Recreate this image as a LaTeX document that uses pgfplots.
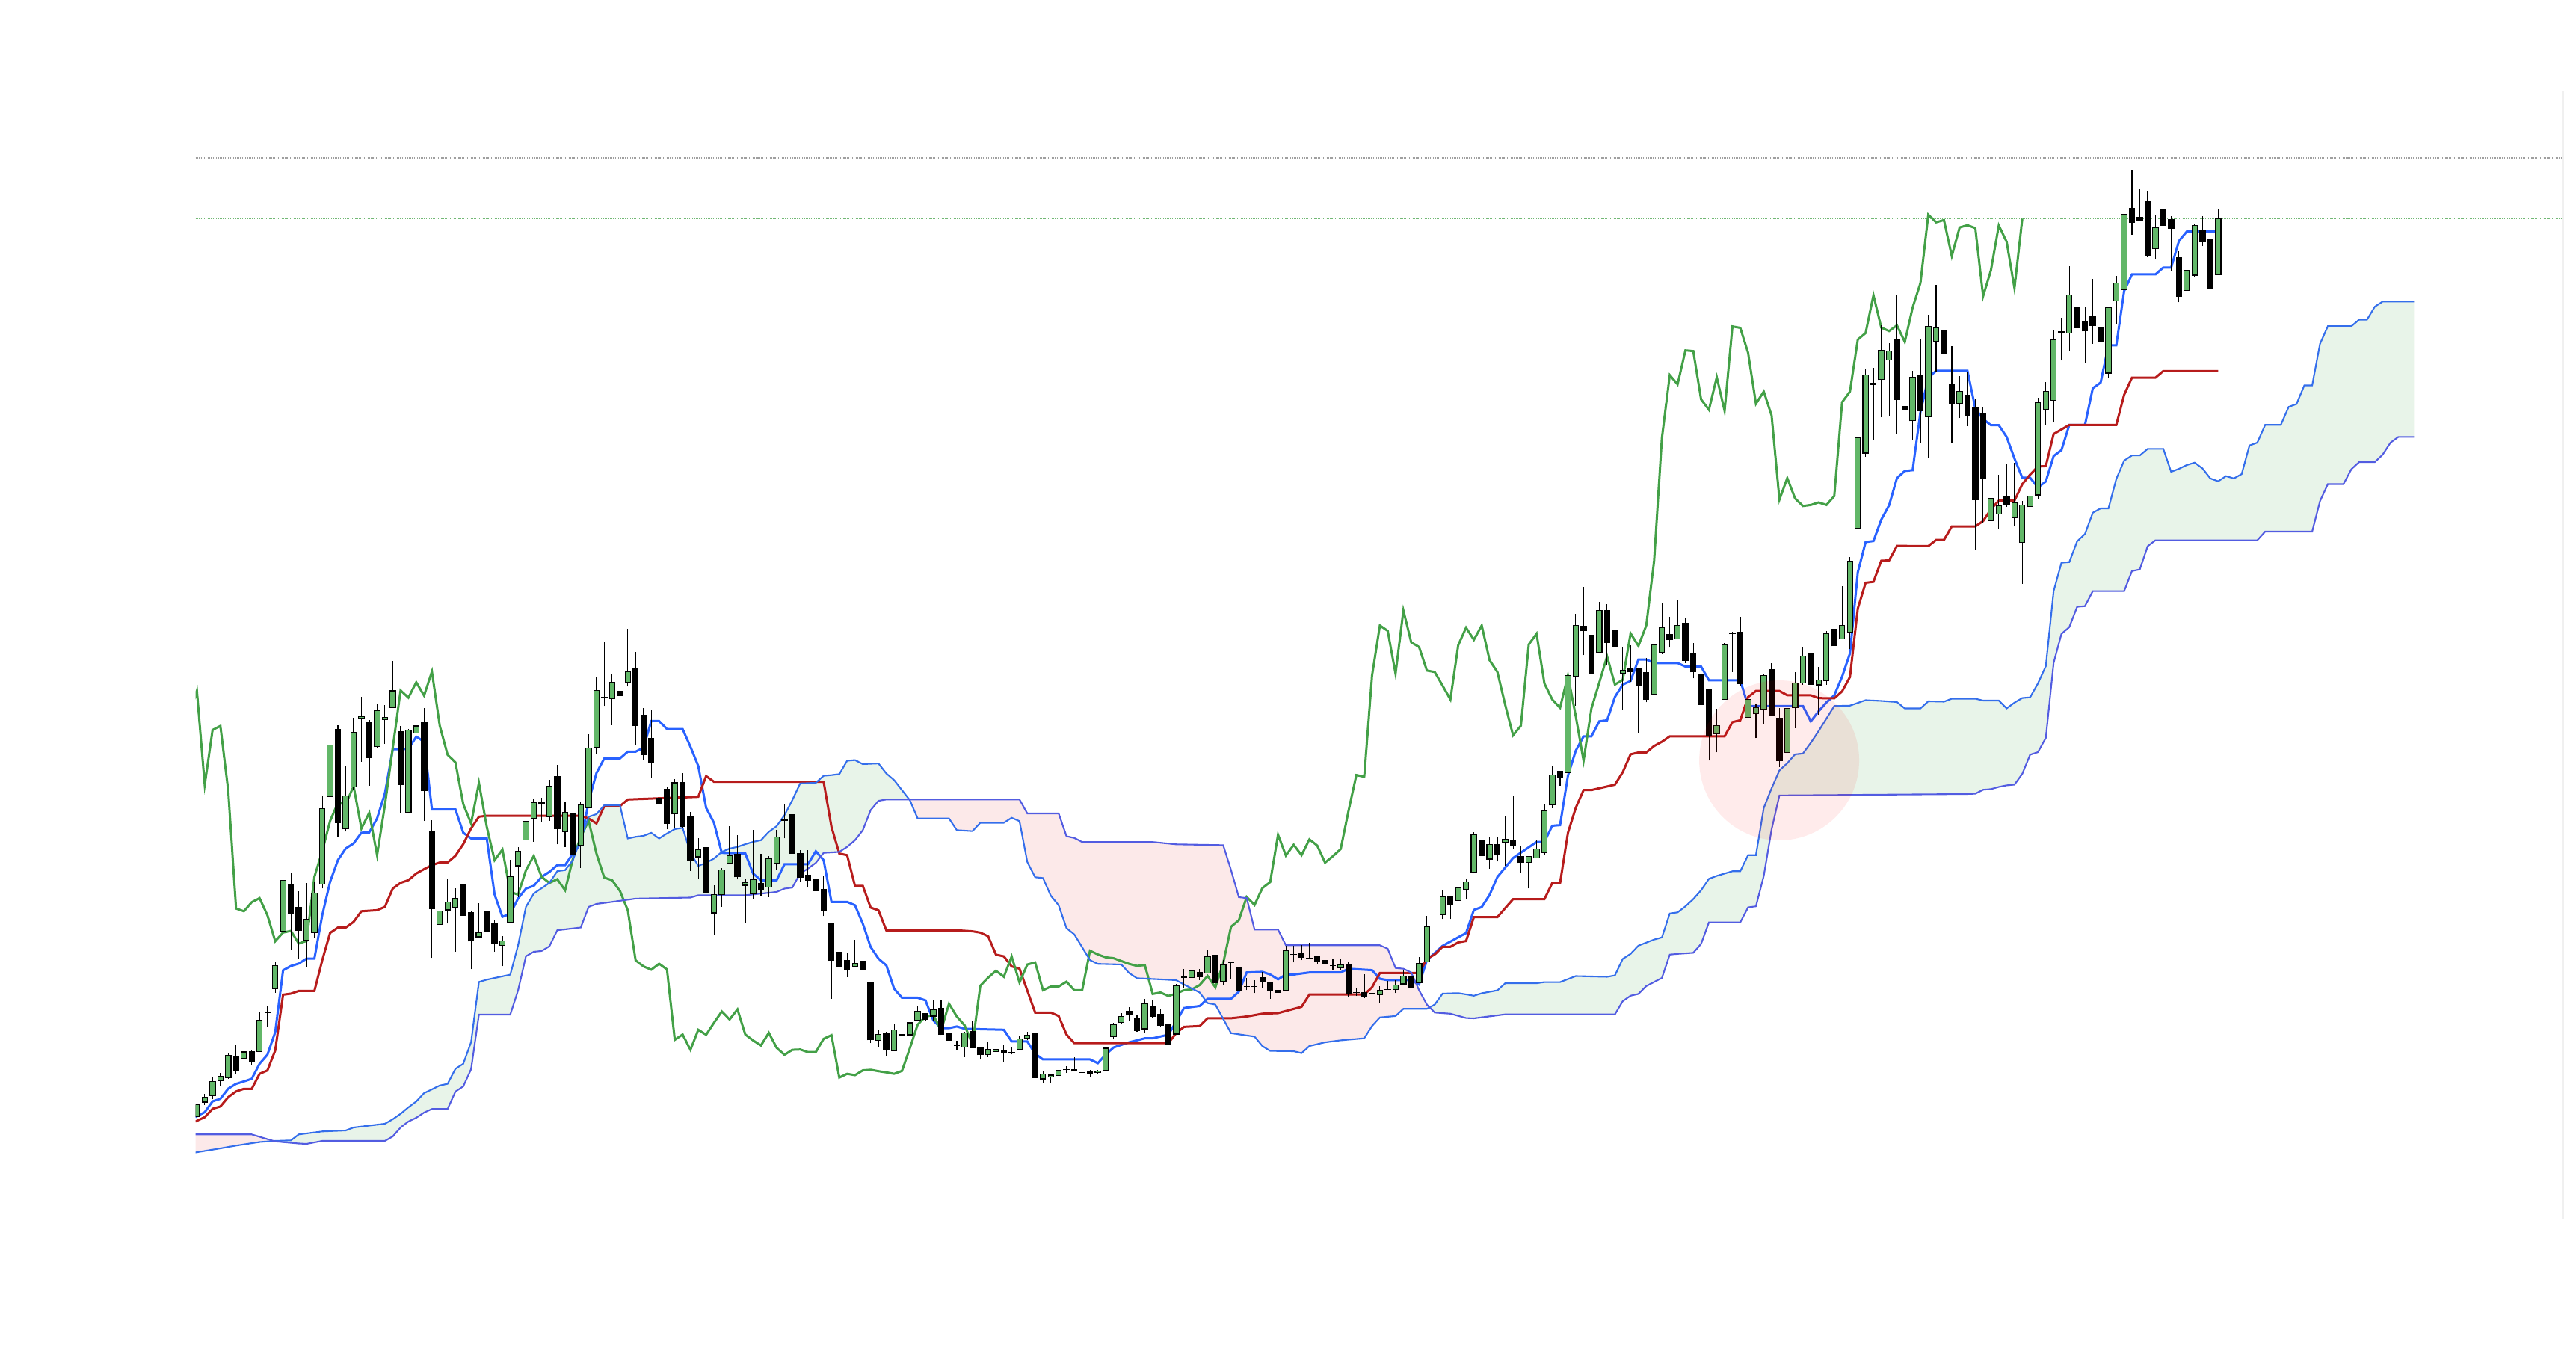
\documentclass[border=0pt]{standalone}
\usepackage{pgfplots}
\pgfplotsset{compat=1.18}
\usepackage{pgfplotstable}
\usepgfplotslibrary{fillbetween}

\definecolor{tenkan}{HTML}{2962FF}
\definecolor{kijun}{HTML}{B71C1C}
\definecolor{chikou}{HTML}{43A047}
\definecolor{spanA}{RGB}{52,110,235}
\definecolor{spanB}{RGB}{82,92,225}
\definecolor{cloudgreen}{RGB}{232,244,233}
\definecolor{cloudred}{RGB}{252,233,233}
\definecolor{bull}{RGB}{98,183,104}

% all prices are read as pixel rows of the reference (larger = lower)
\pgfplotstableread{
i o h l c
0 1493 1471 1495 1477
1 1474.1 1463 1477.7 1467.4
2 1465.2 1440.6 1470.5 1446.4
3 1445.1 1434.8 1452.7 1439.3
4 1441.5 1409.4 1443 1411.6
5 1412.5 1398.2 1436.2 1431.7
6 1416.1 1393.8 1418.3 1407.1
7 1406.3 1405 1424.1 1419.6
8 1406.3 1353.6 1407 1364.7
9 1354.9 1345.5 1373.7 1354.9
10 1322.3 1286.6 1327.7 1291.5
11 1245.5 1141.5 1300 1177.2
12 1183 1167 1271 1221
13 1213.8 1192 1283 1244.6
14 1258 1180.8 1293.3 1229.5
15 1247.3 1180.4 1254.5 1194.6
16 1182.6 1064.3 1188.4 1081.3
17 1065.2 984.4 1079 996.4
18 975.4 970.5 1120 1100.4
19 1108.9 1025.4 1112.5 1064.7
20 1052.2 959.8 1056.7 979.5
21 960.3 932 1018.8 958.5
22 966.5 963 1051.3 1013.4
23 998.7 940.6 1000.9 950.4
24 962 942.9 995.1 959.8
25 946 883.9 947 924.1
26 978.6 971 1087.5 1049.6
27 1087 975 1088 976.3
28 980.4 954.5 1026.3 971
29 966.5 947.3 1098.2 1057.6
30 1112.5 1096.9 1281.3 1215.2
31 1236.2 1217 1241 1218.8
32 1217 1176.3 1235.3 1206.7
33 1213.8 1188.4 1273.2 1201.3
34 1184 1155.8 1225.5 1224.1
35 1221 1219.5 1296.4 1258.9
36 1253.1 1208.5 1254 1247.3
37 1219.6 1217.4 1259.8 1245.1
38 1234.4 1230.8 1273.2 1262
39 1264.3 1251.8 1292.4 1258.5
40 1233.9 1149.6 1235 1172.8
41 1158 1132.6 1200.4 1138.4
42 1123.7 1081.3 1125.9 1098.2
43 1094.6 1067.9 1125.9 1073.7
44 1072.3 1067 1099.1 1075.9
45 1092.4 1043.3 1098.2 1051.3
46 1038.8 1023.2 1129.5 1108
47 1112.5 1073.2 1132.6 1087
48 1088 1073.2 1169.6 1143.8
49 1130.4 1073.2 1160.7 1076.8
50 1080.4 982.1 1081.5 1000.4
51 999.6 906.3 1007.6 923.5
52 933.1 859.5 944.3 933.1
53 934.5 901.9 969.7 912.6
54 924.2 892.9 948.8 930.4
55 913 841.2 918.4 898.3
56 893.8 872 995.6 970.6
57 956.3 947.4 1016.6 1009.5
58 988 950.1 1040.3 1019.7
59 1068 1034.5 1088.9 1075.5
60 1055.9 1053.2 1109.5 1101.4
61 1088.9 1042 1107.2 1047
62 1047 1034.5 1107 1105.9
63 1091.6 1085.8 1164.8 1150.5
64 1146.1 1121.5 1175.1 1136.3
65 1134 1131.3 1213.9 1193
66 1221.1 1184 1251 1196.5
67 1196.5 1160.8 1213 1163.9
68 1155 1105 1156 1144.7
69 1143 1117 1176.4 1172.9
70 1184 1175 1235.4 1180.9
71 1195.2 1110.4 1201.9 1176
72 1181.8 1141.6 1199 1190.7
73 1186.3 1145.2 1199.6 1148.3
74 1155 1110.4 1163.9 1119.3
75 1095.6 1076 1121.5 1097.9
76 1089.4 1085.8 1143 1141.6
77 1141.6 1137.1 1179.6 1173.8
78 1170.6 1137.1 1187.1 1177.3
79 1176 1163 1197.4 1191.6
80 1189.8 1170.6 1225.5 1217.5
81 1234.5 1234 1335.8 1284.5
82 1273.3 1268 1299.2 1292.5
83 1284.5 1275.5 1306.8 1297
84 1292.5 1256.8 1293 1289
85 1285.4 1264.4 1297 1296.5
86 1314.4 1314 1395.2 1390.7
87 1391.6 1376.9 1399.6 1383.6
88 1381.3 1379.6 1411.7 1404.1
89 1405 1369.3 1406 1377.3
90 1385.8 1383.5 1409.5 1384
91 1384 1348.3 1387.1 1368
92 1364.8 1345.6 1365.5 1352.8
93 1355.9 1355 1366 1363.5
94 1359 1338 1365.7 1350
95 1348.3 1338 1384.5 1383.6
96 1381.3 1375 1392 1391.6
97 1398.3 1391.6 1404.1 1398.3
98 1400.5 1380.5 1413.9 1381.3
99 1379.6 1364.8 1402 1401.4
100 1401.9 1401.5 1417.5 1410.8
101 1410.8 1393.8 1413.9 1404.1
102 1406.3 1392.5 1406.5 1403.7
103 1405 1398.3 1420.6 1407.2
104 1407.2 1400.5 1410.4 1407.2
105 1403.7 1385.8 1404 1389.4
106 1389 1380.4 1391 1384.5
107 1383 1383 1453.8 1441.2
108 1443.1 1431.6 1448.8 1436.2
109 1440 1436.5 1448.8 1438
110 1438.5 1428.5 1445 1431.6
111 1430.8 1425.8 1434.6 1430.8
112 1430.4 1414.4 1433 1432.7
113 1434.3 1429.7 1438.5 1434.3
114 1432.3 1430.8 1440.4 1436.2
115 1434.6 1430.8 1436 1432.3
116 1431.6 1397.1 1432 1402.1
117 1386.4 1368.4 1390.3 1370.4
118 1367.7 1355 1369.6 1359.6
119 1353.1 1347.4 1365.8 1357.7
120 1361.9 1357 1379.9 1378
121 1376.1 1335.9 1380.7 1342.4
122 1346.2 1337.8 1361.9 1359.6
123 1356.2 1350.5 1374.2 1371.5
124 1369.6 1366.5 1401.7 1397.1
125 1383 1316 1384 1318.3
126 1305.3 1295.7 1320.6 1307.6
127 1307.6 1291.9 1321.8 1298.4
128 1300.3 1295.7 1311 1306.4
129 1301.5 1270.9 1302 1279.3
130 1277.4 1277 1317.9 1314.1
131 1313 1284.2 1316.8 1290
132 1287.3 1286.2 1309.1 1287.3
133 1294.6 1294 1330.2 1324.4
134 1319.5 1308.4 1324.4 1319.5
135 1319.5 1311 1328.3 1319.5
136 1307.6 1299.6 1321.8 1313
137 1314.5 1314 1335.9 1324.4
138 1327.1 1324 1341.6 1324.4
139 1324.4 1265.1 1325 1271.6
140 1276.6 1265.1 1287.3 1276.6
141 1274.7 1264 1284.2 1280.4
142 1281.6 1261.3 1282 1281.6
143 1279.3 1279 1289.2 1285.4
144 1284.2 1284 1295.7 1289.2
145 1291.9 1282.3 1297.6 1291.9
146 1294.6 1282.3 1297.6 1290.8
147 1290.8 1286.2 1333.2 1329.4
148 1327.5 1320.6 1332.1 1327.5
149 1327.5 1303.4 1335.1 1332.1
150 1329 1322.5 1335.9 1329
151 1330.2 1318.7 1340.9 1324.4
152 1323.3 1312.2 1324 1323.3
153 1323.3 1311 1328.3 1317.5
154 1316 1296.9 1316.5 1305.3
155 1306.4 1306 1322.5 1320.6
156 1314.9 1279.7 1315 1288.5
157 1286.2 1224.9 1286.5 1239.5
158 1230.7 1211.5 1234.5 1230.7
159 1223.8 1190.5 1229.5 1199.7
160 1199.7 1199.5 1229.5 1210.4
161 1204.3 1179.8 1214.2 1187.8
162 1189.7 1175.2 1203.1 1179.8
163 1166.7 1112.7 1168.2 1116.5
164 1123.7 1123.5 1165.3 1144.3
165 1149 1120.3 1162 1129.9
166 1129.9 1120.3 1152.4 1143.8
167 1127 1091.1 1158.1 1122.7
168 1123.7 1065.3 1135.6 1130.9
169 1145.2 1130.9 1167.7 1153.8
170 1153.3 1145 1188.3 1145.2
171 1147.6 1123.7 1148 1135.6
172 1140.4 1075.8 1142.8 1084.4
173 1076.8 1024.2 1080.6 1036.6
174 1031.8 1031.5 1051 1039
175 1033.7 890.7 1041.4 903.6
176 904.5 821.3 944.3 836.6
177 837.6 784.9 876.3 843.8
178 850 849.5 933.7 901.2
179 873 805.5 873.5 816.5
180 816.5 807.9 890.2 859.1
181 843.3 795 883.5 865.3
182 900.2 865.3 949 896.9
183 894 862.9 912.2 898.8
184 894 893.5 980.1 917
185 899.8 879.7 939.5 935.6
186 928.9 858.1 932.3 862.9
187 872.5 806.9 874.9 839.5
188 848.6 824.6 866.3 855.7
189 854.3 803.1 854.5 836.6
190 833.3 826.1 886.8 883
191 873.9 860.5 907.4 898.8
192 901.2 897.8 963.4 942.8
193 922.7 922.5 1017.5 983.5
194 981.1 947.6 1006.5 970.6
195 935.2 859.6 935.5 862
196 847.6 845.2 898.8 847.6
197 845.2 824.6 918 914.1
198 959.6 913.2 1065.3 935.6
199 954.8 941.9 987.3 946.7
200 949 901.2 968.2 903.6
201 895.5 886.8 958 957.7
202 961 946.7 1025.6 1017.5
203 1006.5 944.3 1006.8 947.6
204 946.7 898.8 973.9 913.2
205 913.2 866.3 915.6 877.8
206 874.9 874.5 944.3 915.6
207 916 891.6 956.2 909.3
208 910.8 843.8 915.6 847.1
209 841.4 836.6 885.4 863.9
210 854.3 784 854.5 836.6
211 845.2 744.7 867.7 750.5
212 706.5 562 712.2 585.9
213 606 492.6 610.8 501.7
214 512.7 492.1 588.3 514.1
215 507.9 435.2 558.1 468.7
216 481.6 459.1 555.7 469.6
217 453.8 394 580.6 534.2
218 543.3 479.2 579.7 548.1
219 562.9 495.9 587.8 504.5
220 502.2 453.8 592.6 549.5
221 557.2 420.8 612.2 436.6
222 456.2 381.1 497.4 438.5
223 442.3 411.2 521.3 472
224 513.6 463.4 591.6 540
225 540 503.1 559.1 523.7
226 528.5 497.4 570.1 555.7
227 544.7 534.2 735.2 668.2
228 552.4 544.7 699.3 639.5
229 696.9 658.6 756.7 666.7
230 687.3 634.7 707.4 676.8
231 663.4 621.3 677.8 675.4
232 692.1 619.4 704.1 672
233 725.6 669.6 780.6 675.4
234 677.8 645.7 684 663.4
235 662 531.8 666.7 538
236 548 510.9 568.5 523.7
237 535.4 440.9 565.2 454.2
238 443.5 424.8 482.2 445.4
239 445.4 355.9 468.8 394.9
240 410.2 372 447.7 438.2
241 430.5 411.4 486 442.8
242 422.5 373.1 460 435.1
243 438.2 390.3 467.6 457.3
244 499 411 505.1 411.4
245 402.6 368.9 434 378.5
246 387.3 275.5 409.1 287
247 278.2 228.5 313.8 297.3
248 290.5 252.6 295.4 294.3
249 269.4 256.4 344 342.5
250 332.9 288.5 347.1 304.2
251 279.4 210.5 301.5 301.2
252 293.5 288.9 361.6 305
253 344.4 335.6 404.5 396.1
254 388.4 340.2 407.2 361.3
255 368.1 300.4 370.8 301.5
256 308.1 288.9 329.1 323.4
257 320.3 318.4 391.1 385.4
258 367.4 280.1 367.6 292.4
}\candles

\pgfplotstableread{
i y
-0.2 1494
1 1487.5
2 1473
3 1469.6
4 1456
5 1449.6
6 1446.4
7 1442.9
8 1422.8
9 1410.7
10 1380.4
11 1297.8
12 1292
13 1288.8
14 1282.1
15 1282.1
16 1224.1
17 1179.5
18 1150.4
19 1134.8
20 1128.1
21 1113.8
22 1113.4
23 1094.6
24 1061.2
25 1002.2
26 1002.2
27 1001.8
28 985.3
29 992
30 1082.6
33 1082.6
34 1113.8
35 1121.4
37 1121.4
38 1196.4
39 1226.3
40 1221.9
41 1201.8
42 1188.4
43 1184.8
44 1172.8
45 1166.1
46 1157.1
47 1157.1
48 1141.5
49 1128.1
50 1072
51 1034
52 1014.4
54 1014.4
55 1005.4
56 1005.4
57 1000.1
58 964.4
59 964.4
60 975.1
62 975.1
63 998.8
64 1024.6
65 1080.4
66 1100.5
67 1140.7
70 1141.6
71 1168.4
72 1177.3
74 1177.3
75 1155.9
78 1155.9
79 1138.5
80 1150.5
81 1206.3
83 1206.3
84 1210.8
85 1235.4
86 1266.6
87 1282.2
88 1291.2
89 1322.4
90 1334.5
92 1334.5
93 1338
94 1364.8
95 1375.1
96 1375.1
97 1372.9
98 1376
103 1377.3
104 1392.9
106 1393
107 1409.4
108 1417
114 1417
115 1422
116 1410.5
117 1401
119 1394
121 1388.7
122 1388.7
124 1383.8
125 1366.5
126 1348.2
128 1345.5
129 1335.9
132 1335.9
133 1326.3
134 1300.7
136 1299.9
137 1303.4
138 1309.9
139 1303.4
140 1303.4
142 1300.7
146 1300.7
147 1295.7
150 1297.6
151 1309.1
152 1311
155 1311
156 1316.8
157 1284.2
158 1274.7
159 1265.1
160 1259.4
161 1253.6
162 1248
163 1217
164 1213.2
165 1196.9
166 1173
168 1147.6
169 1140.4
171 1126.1
172 1126.1
173 1104.5
174 1103.6
175 1037.6
176 1004.1
177 984.9
178 984.9
179 964.8
180 963.4
181 932.3
182 915.6
183 910.8
184 882.1
185 882.1
186 886.8
189 886.8
190 891.6
192 891.6
193 909.8
197 909.8
198 944.3
205 944.3
206 964.8
207 951.4
208 939.5
209 930
210 905
211 874
212 765.5
213 725
214 723.7
215 695
216 675.8
217 639.5
218 629.9
219 628.9
220 551
221 505.5
222 495.9
226 495.9
227 546.2
228 560.5
229 568.7
230 568.7
231 584.4
232 613.2
233 639
234 639
235 652
236 644
237 610
238 602
239 568.3
241 568.3
242 519.3
243 511.7
244 461.9
245 461.9
246 389.2
247 367
250 367
251 357.8
252 357.8
253 322.2
254 309.6
258 309.6
}\tenkanline

\pgfplotstableread{
i y
-0.2 1500
1 1494.2
2 1483
3 1479.9
4 1467.4
5 1459.8
6 1456.3
7 1456.3
8 1436.2
9 1431.7
10 1404.9
11 1330.4
12 1329
13 1325.4
15 1325.4
16 1284.4
17 1247.8
18 1240.6
19 1240.6
20 1233
21 1218.8
23 1217.4
24 1212.9
25 1188.4
26 1180.8
27 1177.2
28 1168.3
29 1162.5
30 1157.1
31 1153.6
32 1153.6
33 1144.6
34 1129
35 1108
36 1092.4
37 1091.1
49 1091.1
50 1094.7
51 1101.4
52 1078.2
54 1078.2
55 1069.3
64 1065.7
65 1038
66 1045.6
80 1045.6
81 1105.9
82 1141.6
83 1143.8
84 1184.9
85 1184.9
86 1213.9
87 1217.5
88 1244.3
97 1244.3
99 1245.6
100 1247.4
101 1252.3
102 1276.9
103 1279.1
104 1292.5
105 1295.6
106 1325
107 1354.3
109 1354.3
110 1358.9
111 1383.7
112 1395.2
124 1395.2
125 1381.8
126 1373.4
128 1372.3
129 1361.9
132 1361.9
134 1359.6
136 1355.8
138 1355
141 1346.6
142 1330.2
149 1330.2
150 1320.6
151 1301.5
156 1301.5
157 1282.3
158 1276.6
159 1266.3
160 1266.3
161 1260.5
162 1258.6
163 1226.6
166 1226.6
168 1202.6
172 1202.6
173 1181.1
174 1181.1
175 1114.1
176 1080.6
177 1056.7
178 1056.7
180 1051.9
181 1049.5
182 1032.8
183 1008.9
184 1006.5
185 1006.5
186 997.8
187 992.1
188 984.9
195 984.9
196 965.8
197 963.4
198 932.3
199 924.2
202 924.2
203 929.9
206 929.9
207 933.7
209 934
210 924.7
211 905.5
212 814
213 779.5
214 778.2
215 750
216 749.5
217 730.2
221 730.4
222 722.2
223 722.2
224 704.1
227 704.1
228 696.9
229 681.1
230 669.6
232 669.6
233 647.6
234 634.7
235 624
236 623.4
237 580.5
239 568.3
245 568.3
246 528.1
247 505.1
250 505.1
251 496.3
258 496.3
}\kijunline

\pgfplotstableread{
i y
-0.2 1541.5
3 1536
5 1532.3
8 1527.5
10 1526
12 1525.3
13 1517.3
16 1513.3
19 1512
20 1508
24 1503
25 1497
26 1489.7
27 1481
28 1473.2
29 1462
30 1457
31 1451.8
32 1449.6
33 1429.5
34 1422.8
35 1393.8
36 1313.4
37 1310.3
40 1303.6
41 1264.3
42 1212.9
43 1195.1
45 1180.8
46 1165.2
47 1163.8
48 1150.4
49 1121.4
50 1092.5
51 1088.9
52 1077
54 1077
55 1121.5
56 1119.3
57 1118
58 1113.9
59 1121.5
60 1114.8
61 1109
62 1107.2
63 1140.7
64 1158.1
65 1154.1
66 1148.3
67 1139.4
68 1134.9
69 1132.7
70 1129.1
71 1126
72 1123.8
73 1112.6
74 1105
75 1090.3
76 1070.2
77 1047.9
79 1047
80 1037.6
81 1036.7
82 1035.4
83 1017.5
84 1016.6
85 1022
87 1021.1
88 1034.5
89 1043.4
90 1056.8
91 1070.2
92 1094.7
96 1094.7
97 1110.4
99 1111.7
100 1100.5
103 1100.5
104 1093.8
105 1098.3
106 1153
107 1173.3
108 1174.4
109 1198.1
110 1210.8
111 1241.4
112 1249.8
113 1267
114 1284.2
115 1289.2
118 1290
119 1301.5
120 1308.4
123 1309.9
125 1311
126 1316.8
128 1327.5
129 1341.6
130 1343.6
131 1362.7
132 1381.8
134 1384.9
135 1386.4
136 1399.1
137 1405.6
140 1406
141 1408.6
142 1399.1
144 1394.1
146 1391.4
149 1388.7
150 1372.3
151 1360.8
153 1358.9
154 1349.3
157 1349.3
158 1343.6
159 1329
161 1328.3
162 1330
163 1331.8
164 1328.5
166 1324.6
167 1315.1
171 1315.1
172 1313.6
174 1313.6
176 1305.5
180 1306.5
181 1304.6
182 1282.5
183 1275.8
184 1264.8
186 1256.7
187 1253.8
188 1221.8
189 1220.3
190 1212.2
191 1202.6
192 1190.7
193 1175.4
194 1171.5
196 1165.3
197 1165.3
198 1143.8
199 1143.8
200 1080.6
201 1054.3
202 1030.4
203 1020.8
204 1008.9
205 1007.9
206 993.5
207 977.8
208 961
209 944.3
211 943.8
213 936.5
215 937.5
217 939
218 947.5
220 947.5
221 938
223 938.5
224 934.5
227 934.5
228 937
230 937
231 947.5
232 939.8
233 933.6
234 932.7
235 914
236 891
237 790.6
238 752.7
239 751.8
240 724
241 714.2
242 685.8
243 680
244 680
245 640.6
246 616.1
247 609.2
248 609.2
249 600.4
251 600.4
252 631.1
253 627
254 622
255 618.8
256 626.5
257 639.9
258 643.7
259 636.8
260 639.9
261 634.1
262 595.8
263 592
264 568.3
266 568.3
267 544.2
268 540.4
269 515.5
270 515.5
271 460
272 436.3
275 436.3
276 427.5
277 427.5
278 410.2
279 403.3
283 403.3
}\spanAline

\pgfplotstableread{
i y
-0.2 1517.3
7 1517.3
8 1520.5
10 1526.7
13 1529.5
14 1530
15 1528
16 1526
24 1526
25 1520
26 1508
27 1500
28 1495
29 1488
30 1483.3
32 1483.3
33 1460
34 1453
35 1430
36 1357
40 1357
41 1324.6
42 1279
43 1273
44 1271.9
45 1265.6
46 1244.2
49 1240.5
50 1213
51 1209
53 1206.3
56 1201.9
63 1200.5
64 1197.4
70 1197.4
74 1193
75 1188.5
76 1187.1
77 1168.4
78 1161.7
79 1154.1
80 1140.7
82 1139.4
83 1132.7
84 1123.8
85 1110.4
86 1083.6
87 1071.1
88 1069.3
105 1069.3
106 1088
110 1088
111 1118.5
112 1120.8
113 1126.2
122 1126.2
125 1129.3
131 1130.4
132 1163.7
133 1200
134 1201.2
135 1243.3
138 1243.3
139 1264.3
151 1264.3
152 1268.9
153 1294.6
154 1295.7
155 1300.7
156 1324.4
157 1343.6
158 1354.3
160 1355.8
162 1361.6
163 1362
167 1356.7
181 1356.7
182 1339
183 1331.8
184 1329.4
185 1318.9
187 1308
188 1276.8
189 1275.8
191 1274.4
192 1262.4
193 1233.7
197 1233.7
198 1213.6
199 1212.2
200 1171.5
201 1109.3
202 1063.9
226 1062
227 1061.6
228 1056.3
229 1055.4
230 1052.5
231 1050.4
232 1049.5
233 1035
234 1009.4
235 1006
236 987
237 886.6
238 847.8
239 838.8
240 811.6
241 810.7
242 790.6
246 790.6
247 763.8
248 761.6
249 730.6
250 722.6
263 722.6
264 711
270 711
271 670.3
272 647.5
274 647.5
275 627.6
276 618
278 618
279 608.1
280 592
281 584.4
283 584.4
}\spanBline

\pgfplotsset{
  chart/.style={
    at={(2.616cm,0cm)}, anchor=south west,
    scale only axis, width=31.844cm, height=18.27cm,
    xmin=-0.17, xmax=303.68, ymin=0, ymax=1827,
    y dir=reverse, hide axis, clip=true,
  },
  candle/.style={draw=none, forget plot,
    error bars/.cd, y dir=minus, y explicit, error mark=none},
  guide/.style={line width=0.011cm, dash pattern=on 0.011cm off 0.012cm},
}

\begin{document}
\begin{tikzpicture}
\begin{axis}[chart]
% guide lines
\addplot[gray!75, guide] coordinates {(-0.17,211) (301.97,211)};
\addplot[gray!75, guide] coordinates {(-0.17,1519.3) (301.97,1519.3)};
\addplot[chikou!75, guide] coordinates {(-0.17,292.4) (301.97,292.4)};
\addplot[gray!12, line width=0.03cm] coordinates {(301.97,122) (301.97,1630)};

% cloud
\addplot[draw=none, name path=A, forget plot] table[x=i, y=y] \spanAline;
\addplot[draw=none, name path=B, forget plot] table[x=i, y=y] \spanBline;
\addplot[cloudred] fill between[of=A and B, soft clip={(axis cs:-1,0) rectangle (axis cs:9.9,1827)}];
\addplot[cloudgreen] fill between[of=A and B, soft clip={(axis cs:9.9,0) rectangle (axis cs:90.93,1827)}];
\addplot[cloudred] fill between[of=A and B, soft clip={(axis cs:90.93,0) rectangle (axis cs:157.35,1827)}];
\addplot[cloudgreen] fill between[of=A and B, soft clip={(axis cs:157.35,0) rectangle (axis cs:290,1827)}];

% highlight
\addplot[only marks, mark=*, mark size=30.44pt, red, draw opacity=0, fill opacity=0.08,
  mark options={draw opacity=0, fill=red, fill opacity=0.08}] coordinates {(201.97,1017)};

% ichimoku lines
\addplot[tenkan, line width=0.03cm] table[x=i, y=y] \tenkanline;
\addplot[kijun, line width=0.03cm] table[x=i, y=y] \kijunline;
\addplot[chikou, line width=0.03cm] table[x expr=\thisrow{i}-25, y=c] \candles;
\addplot[spanA, line width=0.021cm] table[x=i, y=y] \spanAline;
\addplot[spanB, line width=0.021cm] table[x=i, y=y] \spanBline;

% wicks
\addplot[candle, error bar style={draw=black, line width=0.011cm}]
  table[x=i, y=l, y error minus expr=\thisrow{l}-\thisrow{h}] \candles;
% bodies: black outline for all, green inside for rising candles
\addplot[candle, error bar style={draw=black, line width=0.084cm}]
  table[x=i, y expr={max(\thisrow{o},\thisrow{c})+0.6},
        y error minus expr={abs(\thisrow{o}-\thisrow{c})+1.2}] \candles;
\addplot[candle, error bar style={draw=bull, line width=0.062cm}]
  table[x=i, y expr={\thisrow{o}-0.6},
        y error minus expr={max(\thisrow{o}-\thisrow{c}-1.2,0)}] \candles;
\end{axis}
\path (0,0) rectangle (34.46cm,18.27cm);
\end{tikzpicture}
\end{document}
